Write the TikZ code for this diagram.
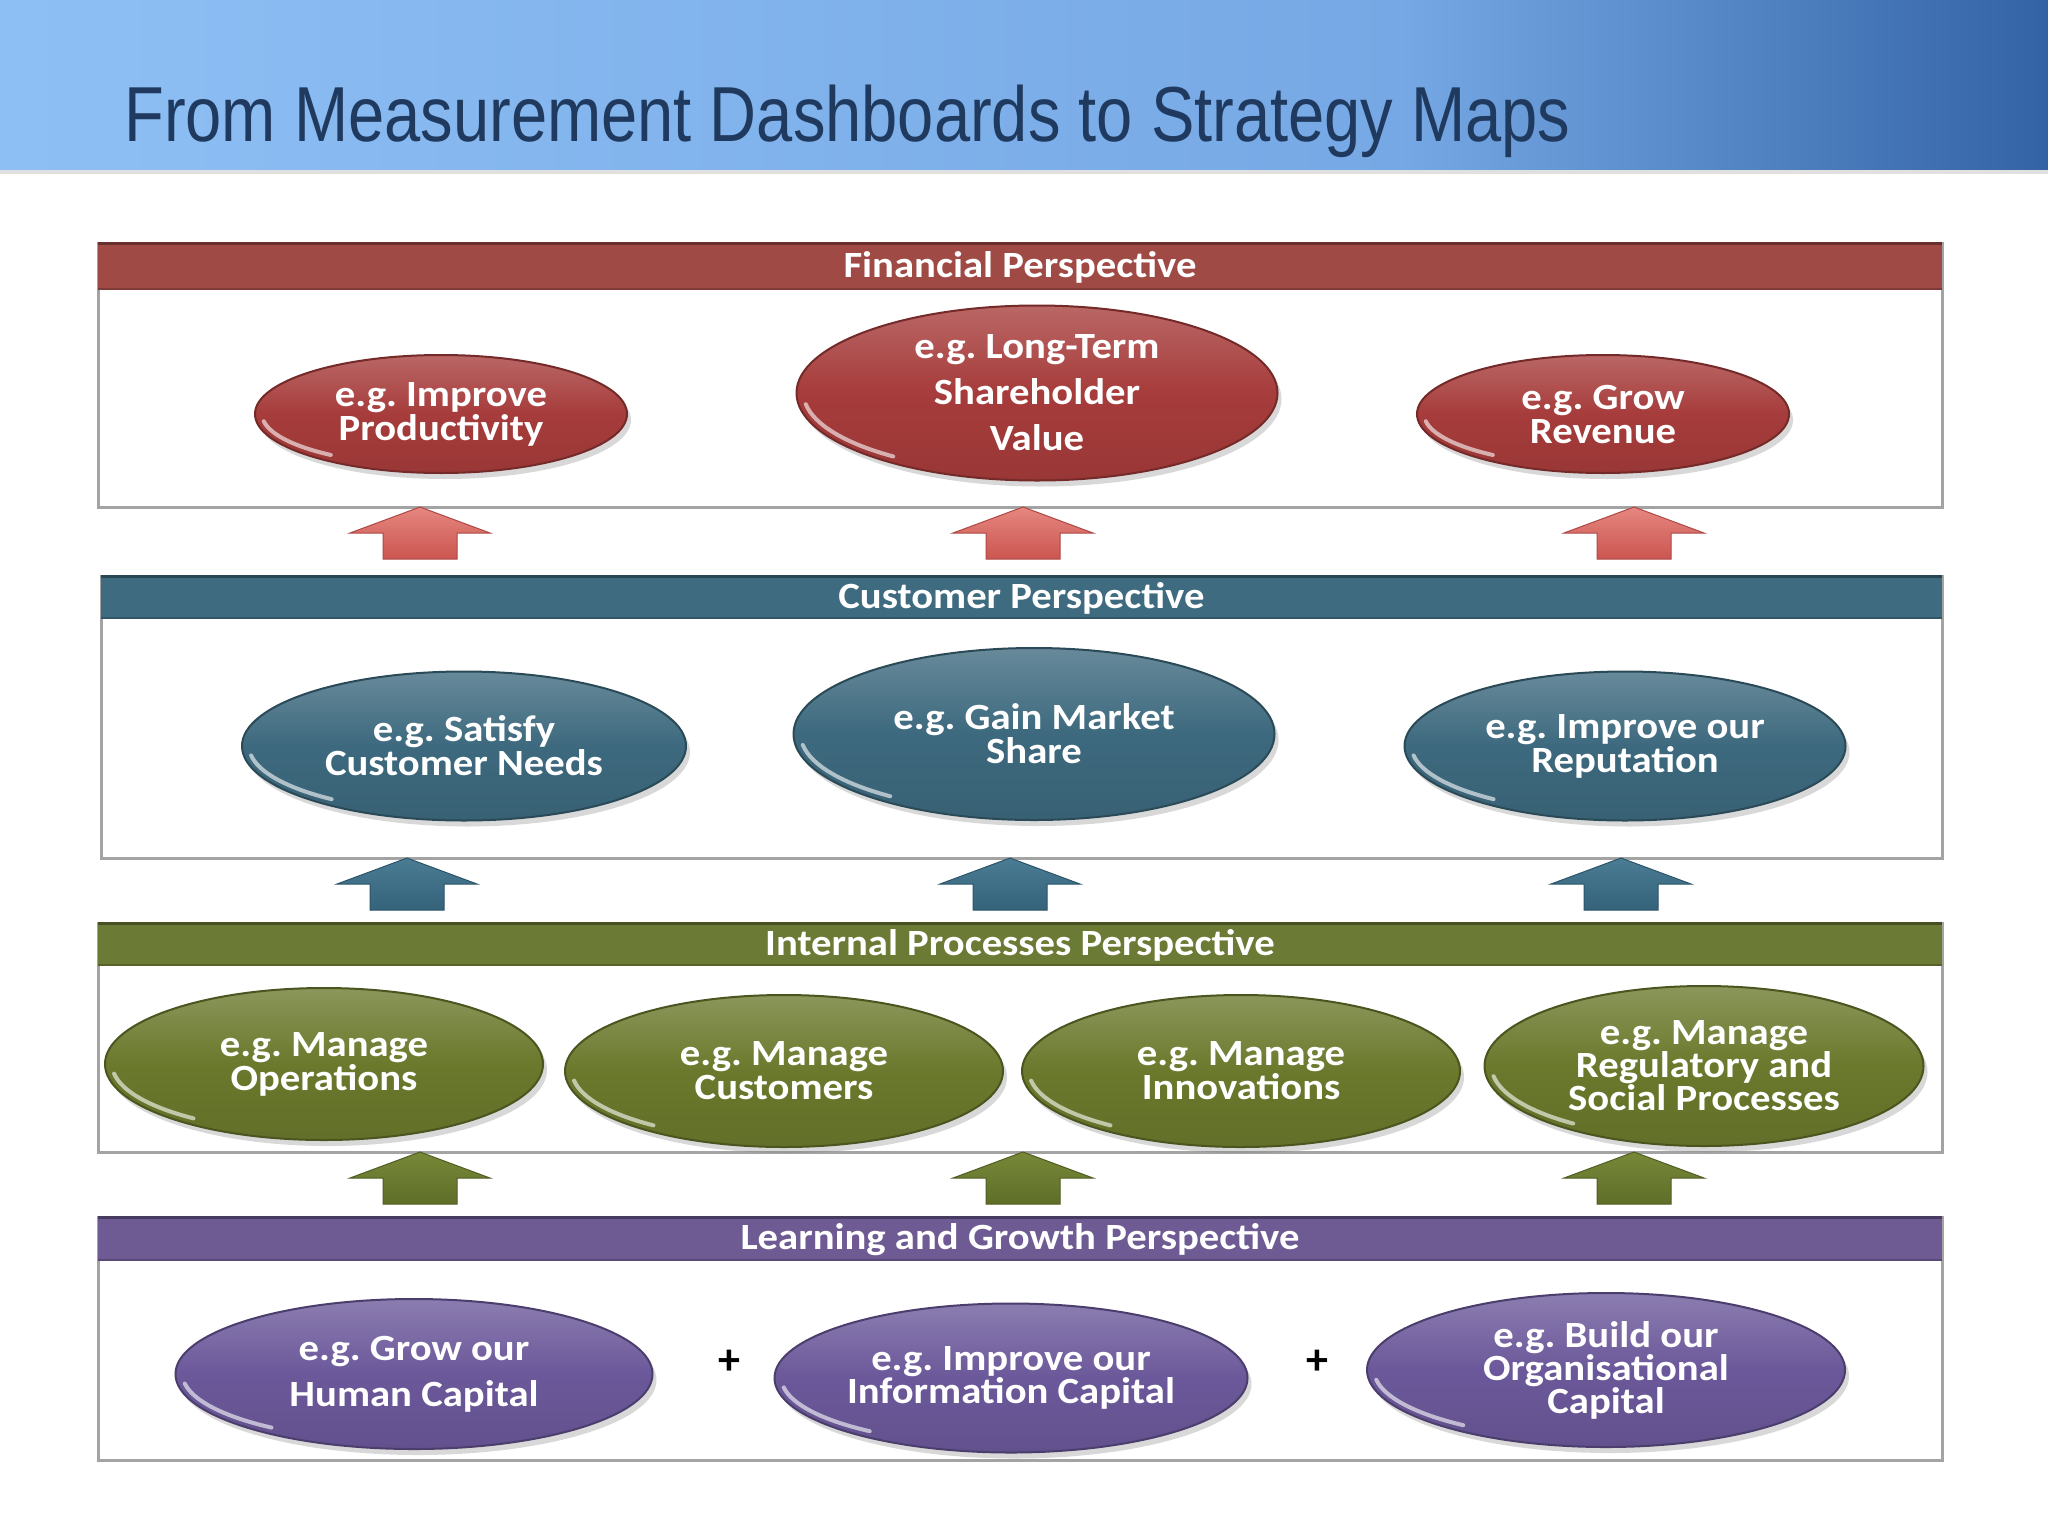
\documentclass[tikz,border=0pt]{standalone}
\usepackage{fontspec}
\usepackage{graphicx}
\setmainfont{Carlito}
\newfontfamily\ovalfont[FakeStretch=1.1]{Carlito}
\newfontfamily\titlefont{Liberation Sans}
\usetikzlibrary{shapes.geometric,shadows}
\frenchspacing

\definecolor{tbA}{HTML}{8EBFF4}
\definecolor{tbB}{HTML}{76A8E5}
\definecolor{tbC}{HTML}{3363A5}
\definecolor{titleblue}{HTML}{1F3A5E}
\definecolor{finhead}{HTML}{9F4A45}
\definecolor{cushead}{HTML}{3F6B80}
\definecolor{inthead}{HTML}{6B7A34}
\definecolor{lrnhead}{HTML}{6E5B93}
\definecolor{finoval}{HTML}{A63C3B}
\definecolor{cusoval}{HTML}{3D697E}
\definecolor{intoval}{HTML}{6A792C}
\definecolor{lrnoval}{HTML}{6B589A}
\definecolor{finarrA}{HTML}{E58780}
\definecolor{finarrB}{HTML}{CC5550}
\definecolor{cusarrA}{HTML}{4A7C94}
\definecolor{cusarrB}{HTML}{34637A}
\definecolor{intarrA}{HTML}{788839}
\definecolor{intarrB}{HTML}{5E6E28}
\definecolor{boxgray}{HTML}{A3A3A3}

\tikzset{
  ovalst/.style={ellipse, inner sep=0pt, text=white, align=center,
    draw=#1!70!black, line width=1pt,
    top color=#1!78!white, bottom color=#1!92!black, middle color=#1,
    drop shadow={shadow xshift=2pt, shadow yshift=-3pt, opacity=.3}},
  headtext/.style={text=white, inner sep=0pt, font=\ovalfont\bfseries\fontsize{18.5}{18.5}\selectfont},
  boxline/.style={draw=boxgray, line width=1.5pt},
  plussign/.style={inner sep=0pt, font=\bfseries\fontsize{22}{22}\selectfont, text=black},
}

% [baselineskip]{name}{cx}{cy}{w}{h}{color}{text}
\newcommand\ovalnode[8][17]{%
  \node[ovalst=#7, minimum width=#5*0.5pt, minimum height=#6*0.5pt,
        font=\ovalfont\bfseries\fontsize{18.5}{#1}\selectfont] (#2) at (#3,#4) {#8};
  \draw[white, opacity=.6, line width=2pt, line cap=round]
    ({#3+(#5/2-7)*cos(172)},{#4+(#6/2-7)*sin(172)})
    arc[start angle=172, end angle=128, x radius={#5/2-7}, y radius={#6/2-7}];
}
% {name}{x1}{y1}{x2}{y2}{header bottom}{color}{text}
\newcommand\perspbox[8]{%
  \fill[white] (#2,#3) rectangle (#4,#5);
  \draw[boxline] (#2,#3) rectangle (#4,#5);
  \fill[#7] (#2,#3) rectangle (#4,#6);
  \draw[#7!65!black, line width=1.5pt] (#2,#3) -- (#4,#3);
  \draw[#7!80!black, line width=1pt] (#2,#6) -- (#4,#6);
  \node[headtext] (#1) at ({(#2+#4)/2},{(#3+#6)/2+1}) {#8};
}
% {cx}{ytop}{colA}{colB}
\newcommand\blockarrow[4]{%
  \shade[top color=#3, bottom color=#4, draw=#4!85!black, line width=.5pt]
    (#1,#2) -- ({#1+70},{#2+26}) -- ({#1+37},{#2+26}) -- ({#1+37},{#2+52})
    -- ({#1-37},{#2+52}) -- ({#1-37},{#2+26}) -- ({#1-70},{#2+26}) -- cycle;
}

\begin{document}
\begin{tikzpicture}[x=0.5pt,y=-0.5pt]
\useasboundingbox (0,0) rectangle (2048,1536);
\fill[white] (0,0) rectangle (2048,1536);

% title bar
\shade[left color=tbA, right color=tbB] (0,0) rectangle (1401,170);
\shade[left color=tbB, right color=tbC] (1400,0) rectangle (2048,170);
\fill[black!12] (0,170) rectangle (2048,174);
\node[anchor=base west, inner sep=0pt, text=titleblue,
      font=\titlefont\fontsize{39}{39}\selectfont] (title) at (124,141)
  {\scalebox{0.834}[1]{From Measurement Dashboards to Strategy Maps}};

% perspective boxes
\perspbox{finh}{98}{243}{1942}{507}{289}{finhead}{Financial Perspective}
\perspbox{cush}{101}{576}{1942}{858}{618}{cushead}{Customer Perspective}
\perspbox{inth}{98}{923}{1942}{1152}{965}{inthead}{Internal Processes Perspective}
\perspbox{lrnh}{98}{1217}{1942}{1460}{1260}{lrnhead}{Learning and Growth Perspective}

% arrows
\blockarrow{420}{507}{finarrA}{finarrB}
\blockarrow{1023}{507}{finarrA}{finarrB}
\blockarrow{1634}{507}{finarrA}{finarrB}
\blockarrow{407}{858}{cusarrA}{cusarrB}
\blockarrow{1010}{858}{cusarrA}{cusarrB}
\blockarrow{1621}{858}{cusarrA}{cusarrB}
\blockarrow{420}{1152}{intarrA}{intarrB}
\blockarrow{1023}{1152}{intarrA}{intarrB}
\blockarrow{1634}{1152}{intarrA}{intarrB}

% financial
\ovalnode{prod}{441}{414}{372}{118}{finoval}{e.g. Improve\\Productivity}
\ovalnode[23]{share}{1037}{393}{481}{175}{finoval}{e.g. Long-Term\\Shareholder\\Value}
\ovalnode{rev}{1603}{414}{372}{118}{finoval}{e.g. Grow\\Revenue}

% customer
\ovalnode{needs}{464}{746}{444}{149}{cusoval}{e.g. Satisfy\\Customer Needs}
\ovalnode{market}{1034}{734}{481}{172}{cusoval}{e.g. Gain Market\\Share}
\ovalnode{reput}{1625}{746}{441}{149}{cusoval}{e.g. Improve our\\Reputation}

% internal
\ovalnode{ops}{324}{1064}{438}{152}{intoval}{e.g. Manage\\Operations}
\ovalnode{custs}{784}{1071}{438}{152}{intoval}{e.g. Manage\\Customers}
\ovalnode{innov}{1241}{1071}{438}{152}{intoval}{e.g. Manage\\Innovations}
\ovalnode[16.5]{reg}{1704}{1066}{439}{160}{intoval}{e.g. Manage\\Regulatory and\\Social Processes}

% learning
\ovalnode[23]{human}{414}{1374}{477}{150}{lrnoval}{e.g. Grow our\\Human Capital}
\ovalnode[16.5]{info}{1011}{1378}{473}{149}{lrnoval}{e.g. Improve our\\Information Capital}
\ovalnode[16.5]{org}{1606}{1370}{478}{154}{lrnoval}{e.g. Build our\\Organisational\\Capital}

\node[plussign] (plusA) at (729,1362) {+};
\node[plussign] (plusB) at (1317,1362) {+};
\end{tikzpicture}
\end{document}
